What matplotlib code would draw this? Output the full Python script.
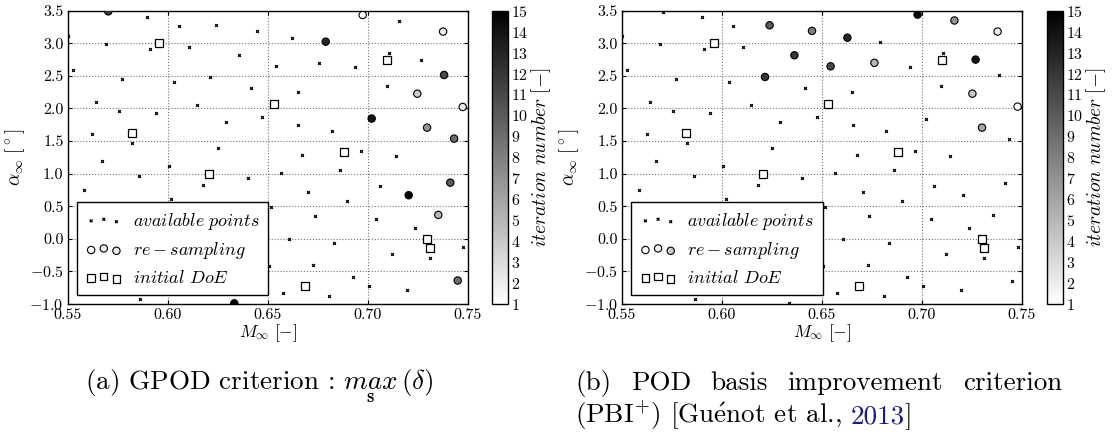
import matplotlib

matplotlib.use("Agg")
import matplotlib.pyplot as plt
import numpy as np

plt.rcParams.update(
    {
        "font.family": ["cmr10", "DejaVu Serif"],
        "mathtext.fontset": "cm",
        "axes.formatter.use_mathtext": True,
        "axes.unicode_minus": True,
        "font.size": 11,
    }
)

# available points (same set in both panels)
avail_M = [
    0.5500, 0.5527, 0.5690, 0.5898, 0.5910, 0.5770, 0.5642, 0.5757, 0.5940, 0.5623,
    0.5823, 0.5672, 0.5583, 0.5858, 0.5813, 0.5863, 0.6055, 0.6240, 0.6107, 0.6033,
    0.6210, 0.6147, 0.6292, 0.6252, 0.6005, 0.6178, 0.6400, 0.6018, 0.6320, 0.6445,
    0.6358, 0.6540, 0.6417, 0.6473, 0.6565, 0.6517, 0.6507, 0.6623, 0.6790, 0.6757,
    0.6938, 0.6650, 0.6653, 0.6820, 0.6673, 0.6965, 0.6862, 0.6703, 0.6898, 0.6735,
    0.6607, 0.6833, 0.6728, 0.6925, 0.6575, 0.6808, 0.7005, 0.7158, 0.7107, 0.7265,
    0.7385, 0.7097, 0.7020, 0.7140, 0.7062, 0.7043, 0.7235, 0.7120, 0.7312, 0.7478,
    0.7195, 0.7435, 0.7413, 0.7205, 0.7353, 0.7450, 0.6333, 0.5703, 0.6975, 0.7377,
    0.7252, 0.7478, 0.7300,
]
avail_alpha = [
    3.11, 2.59, 2.99, 3.41, 2.91, 2.45, 2.10, 1.96, 1.93, 1.61,
    1.475, 1.195, 0.75, 0.96, 0.454, -0.926, 3.27, 3.28, 2.94, 2.40,
    2.48, 2.05, 1.79, 1.394, 1.123, 0.831, 0.93, 0.612, 0.54, 3.19,
    2.816, 2.65, 2.31, 1.87, 1.006, 0.485, -0.416, 3.086, 3.025, 2.70,
    2.63, 2.25, 1.75, 1.65, 1.287, 1.35, 1.05, 0.724, 0.575, 0.356,
    0.0, -0.07, -0.405, -0.58, -0.83, -0.876, -0.72, 3.345, 2.847, 2.75,
    2.514, 2.34, 1.84, 1.27, 0.81, 0.30, 0.165, -0.23, -0.295, -0.125,
    -0.79, 1.53, 0.862, 0.669, 0.367, -0.64, -0.99, 3.485, 3.434, 3.18,
    2.227, 2.028, 1.706,
]

# initial design of experiments
doe_M = [0.5958, 0.5820, 0.6205, 0.6530, 0.6882, 0.7098, 0.7298, 0.7312, 0.6687]
doe_alpha = [3.01, 1.63, 0.99, 2.07, 1.337, 2.74, 0.0, -0.144, -0.73]

# re-sampled points, (a) GPOD criterion
gpod_M = [0.6975, 0.7475, 0.7377, 0.7248, 0.7353, 0.7297, 0.7432, 0.7450, 0.7413,
          0.7382, 0.5703, 0.6790, 0.7020, 0.7205, 0.6333]
gpod_alpha = [3.434, 2.023, 3.18, 2.227, 0.367, 1.706, 1.537, -0.64, 0.862,
              2.514, 3.49, 3.025, 1.845, 0.669, -0.99]
gpod_iter = [1, 2, 2, 4, 5, 7, 9, 9, 10, 11, 12, 13, 14, 15, 15]

# re-sampled points, (b) PBI+ criterion
pbi_M = [0.7478, 0.7378, 0.7252, 0.6762, 0.7300, 0.7162, 0.6450, 0.6238, 0.6543,
         0.6362, 0.6215, 0.6627, 0.7268, 0.6978]
pbi_alpha = [2.028, 3.18, 2.227, 2.70, 1.706, 3.35, 3.19, 3.276, 2.647,
             2.816, 2.483, 3.086, 2.75, 3.44]
pbi_iter = [1, 2, 4, 5, 6, 7, 8, 10, 11, 12, 12, 13, 14, 15]

x_ticks = [0.55, 0.60, 0.65, 0.70, 0.75]
y_ticks = np.arange(-1.0, 3.51, 0.5)
cb_ticks = list(range(1, 16))

W, H = 1113, 436
fig = plt.figure(figsize=(W / 100, H / 100), dpi=100)


def panel(ax_px, cb_px, res_M, res_alpha, res_iter):
    ax = fig.add_axes([ax_px / W, 132 / H, 400 / W, 293.3 / H])
    cax = fig.add_axes([cb_px / W, 132 / H, 16 / W, 293.3 / H])

    pts = ax.scatter(avail_M, avail_alpha, marker="x", s=4, c="k", linewidths=0.9, zorder=2)
    sq = ax.scatter(doe_M, doe_alpha, marker="s", s=28, facecolors="white",
                    edgecolors="k", linewidths=0.9, zorder=3)
    sc = ax.scatter(res_M, res_alpha, marker="o", s=28, c=res_iter, cmap="gray_r",
                    vmin=1, vmax=15, edgecolors="k", linewidths=0.8, zorder=4)

    ax.set_xlim(0.55, 0.75)
    ax.set_ylim(-1.0, 3.5)
    ax.set_xticks(x_ticks)
    ax.set_xticklabels(["%.2f" % v for v in x_ticks])
    ax.set_yticks(y_ticks)
    ax.set_yticklabels([("$-$%.1f" % -v) if v < 0 else "%.1f" % v for v in y_ticks])
    ax.tick_params(direction="in", top=True, right=True, length=3, pad=3, labelsize=11.5)
    ax.grid(True, linestyle=":", color="0.45", linewidth=0.8)
    for sp in ax.spines.values():
        sp.set_linewidth(1.0)
    ax.set_xlabel(r"$M_\infty\ [-]$", fontsize=12.5, labelpad=0)
    ax.set_ylabel(r"$\alpha_\infty\ [^\circ]$", fontsize=14, labelpad=2)

    leg = ax.legend(
        [pts, sc, sq],
        [r"$available\ points$", r"$re-sampling$", r"$initial\ DoE$"],
        loc="lower left", bbox_to_anchor=(0.0225, 0.031), borderaxespad=0,
        scatterpoints=3, fancybox=False, framealpha=1, edgecolor="k",
        fontsize=13, handletextpad=0.6, borderpad=0.5, labelspacing=0.45,
    )
    leg.get_frame().set_linewidth(1.0)
    leg.set_zorder(10)

    cb = fig.colorbar(sc, cax=cax, ticks=cb_ticks)
    cb.outline.set_linewidth(1.0)
    cax.tick_params(length=0, pad=2, labelsize=11.5)
    cb.set_label(r"$iteration\ number\ [-]$", fontsize=14, labelpad=1)
    return ax


panel(67.7, 492, gpod_M, gpod_alpha, gpod_iter)
panel(622, 1047, pbi_M, pbi_alpha, pbi_iter)

renderer = fig.canvas.get_renderer()
CAP = 19.5

fig.text(259 / W, 46 / H, r"(a) GPOD criterion : $\underset{\mathbf{s}}{max}\,(\delta)$",
         fontsize=CAP, ha="center", va="baseline")

# (b) caption, first line justified between the panel edges
words = ["(b)", "POD", "basis", "improvement", "criterion"]
texts = [fig.text(0, 46 / H, w, fontsize=CAP, va="baseline") for w in words]
widths = [t.get_window_extent(renderer).width for t in texts]
x0, x1 = 575, 1062
gap = (x1 - x0 - sum(widths)) / (len(words) - 1)
x = x0
for t, w in zip(texts, widths):
    t.set_x(x / W)
    x += w + gap

# second line: black text, blue citation year
probe_a = fig.text(0, 0, "a a", fontsize=CAP)
probe_b = fig.text(0, 0, "aa", fontsize=CAP)
space = probe_a.get_window_extent(renderer).width - probe_b.get_window_extent(renderer).width
probe_a.remove()
probe_b.remove()

x = 575
pieces = [(r"(PBI$^{+}$) [Gu$\mathrm{\acute{e}}$not et al.,", "k", space),
          ("2013", "#1a1a8c", 0), ("]", "k", 0)]
for s, col, extra in pieces:
    t = fig.text(x / W, 13 / H, s, fontsize=CAP, va="baseline", color=col)
    x += t.get_window_extent(renderer).width + extra

fig.savefig("out.png", dpi=100)
